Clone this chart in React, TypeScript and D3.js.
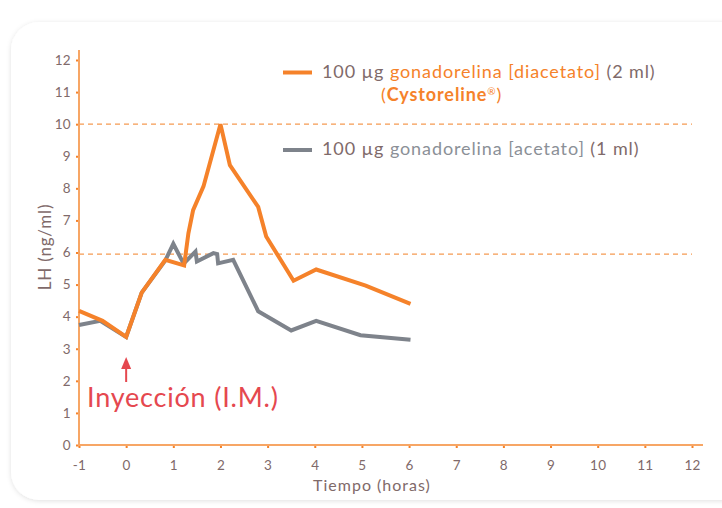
import React, { useEffect, useRef } from 'react';
import * as d3 from 'd3';

// Horas tras la inyección y LH (ng/ml)
const diacetatoHours = [-1, -0.5, 0, 0.33, 0.83, 1.23, 1.32, 1.42, 1.64, 2, 2.2, 2.8, 2.97, 3.55, 4.03, 5.08, 6.03];
const diacetatoLH = [4.18, 3.87, 3.37, 4.75, 5.77, 5.6, 6.6, 7.32, 8.06, 10, 8.72, 7.42, 6.5, 5.12, 5.47, 4.97, 4.4];

const acetatoHours = [-1, -0.55, 0, 0.33, 0.83, 1.0, 1.22, 1.47, 1.5, 1.85, 1.93, 1.95, 2.27, 2.8, 3.5, 4.03, 4.97, 6.03];
const acetatoLH = [3.74, 3.87, 3.37, 4.75, 5.75, 6.27, 5.65, 6.03, 5.72, 5.98, 5.95, 5.66, 5.77, 4.17, 3.57, 3.87, 3.42, 3.28];

const xTickValues = [-1, 0, 1, 2, 3, 4, 5, 6, 7, 8, 9, 10, 11, 12];
const yTickValues = [0, 1, 2, 3, 4, 5, 6, 7, 8, 9, 10, 11, 12];
const refLines = [10, 5.95];

const ORANGE = '#f5822a';
const AXIS = '#f7a665';
const GREY = '#7e838b';
const TEXT = '#7f6a6a';
const RED = '#e5484f';
const FONT = 'Lato, "Open Sans", sans-serif';

function LHChart() {
  const svgRef = useRef<SVGSVGElement>(null);

  useEffect(() => {
    const svg = d3.select(svgRef.current);
    svg.selectAll('*').remove();

    const x = d3.scaleLinear().domain([-1, 12]).range([79, 692]);
    const y = d3.scaleLinear().domain([0, 12]).range([445, 60]);

    // tarjeta
    const defs = svg.append('defs');
    const f = defs.append('filter').attr('id', 'shadow').attr('x', '-5%').attr('y', '-5%').attr('width', '110%').attr('height', '110%');
    f.append('feDropShadow').attr('dx', 0).attr('dy', 1).attr('stdDeviation', 2.5).attr('flood-color', '#000').attr('flood-opacity', 0.12);
    svg.append('rect')
      .attr('x', 11).attr('y', 22).attr('width', 740).attr('height', 478)
      .attr('rx', 28).attr('fill', '#fff').attr('filter', 'url(#shadow)');

    // líneas de referencia
    svg.selectAll('.ref')
      .data(refLines)
      .enter().append('line')
      .attr('x1', x(-1)).attr('x2', x(12))
      .attr('y1', d => y(d)).attr('y2', d => y(d))
      .attr('stroke', '#f59a52').attr('stroke-width', 1.4)
      .attr('stroke-dasharray', '5,4');

    // ejes
    const yAxis = svg.append('g')
      .attr('transform', `translate(${x(-1)},0)`)
      .call(d3.axisLeft(y).tickValues(yTickValues).tickSize(3).tickPadding(5).tickFormat(d => String(d)));
    const xAxis = svg.append('g')
      .attr('transform', `translate(0,${y(0)})`)
      .call(d3.axisBottom(x).tickValues(xTickValues).tickSize(3).tickPadding(12).tickFormat(d => String(d)));
    [xAxis, yAxis].forEach(g => {
      g.select('.domain').remove();
      g.selectAll('.tick line').attr('stroke', ORANGE).attr('stroke-width', 2);
      g.selectAll('.tick text')
        .attr('fill', TEXT)
        .attr('font-family', FONT)
        .attr('font-size', 13.5)
        .attr('letter-spacing', 0.3);
    });
    xAxis.selectAll('.tick line').attr('y1', -1);

    svg.append('line')
      .attr('x1', x(-1)).attr('x2', x(-1))
      .attr('y1', 50).attr('y2', y(0))
      .attr('stroke', AXIS).attr('stroke-width', 2);
    svg.append('line')
      .attr('x1', x(-1) - 1).attr('x2', 703)
      .attr('y1', y(0)).attr('y2', y(0))
      .attr('stroke', AXIS).attr('stroke-width', 2);

    // series
    const line = d3.line<number[]>()
      .x(d => x(d[0]))
      .y(d => y(d[1]));

    const acetato = acetatoHours.map((h, i) => [h, acetatoLH[i]]);
    const diacetato = diacetatoHours.map((h, i) => [h, diacetatoLH[i]]);

    svg.append('path')
      .datum(acetato)
      .attr('d', line)
      .attr('fill', 'none')
      .attr('stroke', GREY)
      .attr('stroke-width', 4)
      .attr('stroke-linejoin', 'miter');

    svg.append('path')
      .datum(diacetato)
      .attr('d', line)
      .attr('fill', 'none')
      .attr('stroke', ORANGE)
      .attr('stroke-width', 4)
      .attr('stroke-linejoin', 'miter');

    // títulos de ejes
    svg.append('text')
      .attr('transform', `translate(51,247) rotate(-90)`)
      .attr('text-anchor', 'middle')
      .attr('fill', TEXT)
      .attr('font-family', FONT)
      .attr('font-size', 17)
      .attr('letter-spacing', 0.8)
      .text('LH (ng/ml)');
    svg.append('text')
      .attr('x', 372).attr('y', 491)
      .attr('text-anchor', 'middle')
      .attr('fill', TEXT)
      .attr('font-family', FONT)
      .attr('font-size', 16)
      .attr('letter-spacing', 1)
      .text('Tiempo (horas)');

    // inyección
    svg.append('line')
      .attr('x1', x(0)).attr('x2', x(0))
      .attr('y1', 367).attr('y2', 382)
      .attr('stroke', RED).attr('stroke-width', 2);
    svg.append('path')
      .attr('d', `M${x(0)},357 L${x(0) - 5},369 L${x(0) + 5},369 Z`)
      .attr('fill', RED);
    svg.append('text')
      .attr('x', 87).attr('y', 407)
      .attr('fill', RED)
      .attr('font-family', FONT)
      .attr('font-size', 27)
      .attr('letter-spacing', 0.8)
      .text('Inyección (I.M.)');

    // leyenda
    const legend = svg.append('g')
      .attr('font-family', FONT)
      .attr('font-size', 18)
      .attr('letter-spacing', 0.9);
    legend.append('line')
      .attr('x1', 283).attr('x2', 312).attr('y1', 72.5).attr('y2', 72.5)
      .attr('stroke', ORANGE).attr('stroke-width', 4);
    const t1 = legend.append('text').attr('x', 322).attr('y', 78).attr('fill', TEXT);
    t1.append('tspan').text('100 µg ');
    t1.append('tspan').attr('fill', ORANGE).text('gonadorelina [diacetato]');
    t1.append('tspan').text(' (2 ml)');
    const t2 = legend.append('text').attr('x', 381).attr('y', 101).attr('fill', ORANGE);
    t2.append('tspan').text('(');
    t2.append('tspan').attr('font-weight', 'bold').text('Cystoreline');
    t2.append('tspan').attr('font-size', 10).attr('dy', -6).text('®');
    t2.append('tspan').attr('dy', 6).text(')');

    legend.append('line')
      .attr('x1', 283).attr('x2', 312).attr('y1', 150).attr('y2', 150)
      .attr('stroke', GREY).attr('stroke-width', 4);
    const t3 = legend.append('text').attr('x', 322).attr('y', 155).attr('fill', TEXT);
    t3.append('tspan').text('100 µg ');
    t3.append('tspan').attr('fill', '#8b9097').text('gonadorelina [acetato]');
    t3.append('tspan').text(' (1 ml)');
  }, []);

  return <svg ref={svgRef} width={722} height={508} style={{ position: 'absolute', left: 0, top: 0 }} />;
}

export default function App() {
  return <LHChart />;
}
